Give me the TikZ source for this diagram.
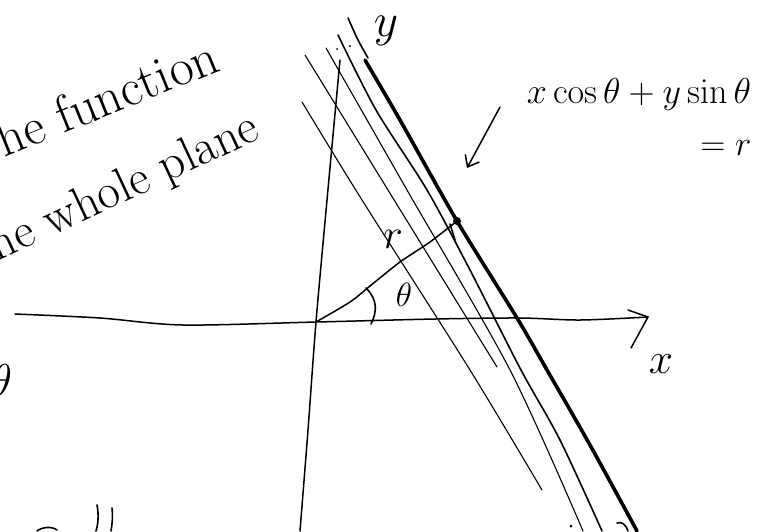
\documentclass[tikz,border=0pt]{standalone}
\usetikzlibrary{arrows.meta}
\newcommand{\hwmath}[2]{\scalebox{#1}{\Huge$#2$}}
\begin{document}
\begin{tikzpicture}[x=1pt,y=-1pt,
  pen/.style={line width=1.1pt, line cap=round, line join=round},
  penb/.style={line width=1.6pt, line cap=round, line join=round},
  axisline/.style={line width=1.5pt, line cap=round, line join=round},
  boldline/.style={line width=3.6pt, line cap=round, line join=round},
  hand/.style={inner sep=0pt},
  lab/.style={inner sep=0pt}]
\useasboundingbox (0,0) rectangle (759,531);
\clip (0,0) rectangle (759,531);

% named points
\coordinate (O) at (316,322);
\coordinate (XT) at (648,317);
\coordinate (YT) at (340,60);
\coordinate (P) at (457,221);
\coordinate (A1) at (500,107);
\coordinate (A2) at (467,168);

% axes
\draw[axisline] plot[smooth] coordinates {(300,531) (308,430) (O) (327,200) (YT)};
\draw[axisline] plot[smooth] coordinates {(15,314) (100,318) (183,325) (O) (435,319) (520,318) (580,320) (XT)};
\draw[axisline] (628,310) -- (XT) -- (631,348);

% family of parallel lines
\draw[pen] plot[smooth] coordinates {(305,55) (388,190) (497,367)};
\draw[pen] plot[smooth] coordinates {(302,102) (362,200) (470,370) (542,490)};
\draw[pen] plot[smooth] coordinates {(326,48) (407,190) (510,370) (583,531)};
\draw[penb] plot[smooth] coordinates {(338,35) (376,110) (427,190) (470,270) (521,370) (560,440) (602,531)};
\draw[penb] plot[smooth] coordinates {(348,18) (358,40) (368,58)};
\draw[boldline] plot[smooth] coordinates {(365,60) (400,120) (P) (517,318) (547,370) (590,445) (637,531)};

% r segment and angle
\draw[axisline] plot[smooth] coordinates {(O) (350,302) (370,286) (400,262) (430,242) (P)};
\fill (P) circle (4pt);
\draw[penb] (450,224) -- (455,240);
\draw[penb] (366,288) .. controls (378,300) and (377,312) .. (371,324);

% dots
\fill (337,49) circle (1pt);
\fill (350,46) circle (1.2pt);
\fill (571,526) circle (1.5pt);
\draw[penb] (617,523) .. controls (622,521) and (626,525) .. (628,531);

% annotation arrow
\draw[axisline, -{Straight Barb[length=10pt,width=16pt]}] (A1) -- (A2);

% labels
\node[lab] (ylab) at (386,31) {\hwmath{1.9}{y}};
\node[lab] (xlab) at (661,364) {\hwmath{1.75}{x}};
\node[lab] (rlab) at (393,239) {\hwmath{1.7}{r}};
\node[lab] (thlab) at (404,295) {\hwmath{1.35}{\theta}};
\node[lab] (eq1) at (639,94) {\hwmath{1.45}{x\cos\theta + y\sin\theta}};
\node[lab] (eq2) at (726,148) {\hwmath{1.4}{=r}};

% text at left edge
\node[hand, font=\fontsize{52}{52}\selectfont, rotate=22, anchor=base east] (t1) at (222,70) {he function};
\node[hand, font=\fontsize{49}{49}\selectfont, rotate=25, anchor=base east] (t2) at (262,138) {ne whole plane};
\node[lab] (th0) at (1,381) {\hwmath{1.85}{\theta}};

% partial strokes at bottom left
\draw[penb] (37,531) .. controls (42,527) and (52,526) .. (57,530);
\draw[penb] (97,505) .. controls (99,515) and (98,525) .. (96,531);
\draw[penb] (112,508) .. controls (113,518) and (112,525) .. (111,531);
\end{tikzpicture}
\end{document}
